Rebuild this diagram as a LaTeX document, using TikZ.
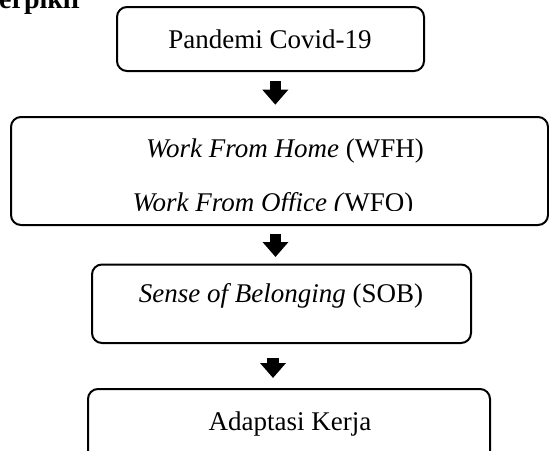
\documentclass[tikz,border=0pt]{standalone}
\usepackage{fontspec}
\setmainfont{Liberation Serif}
\usetikzlibrary{arrows.meta, positioning}

\tikzset{
  flowbox/.style={draw, line width=2pt, rounded corners=10pt, inner sep=0pt},
  blockarrow/.style={line width=11.5pt, -{Triangle[width=25pt, length=15pt]}},
  boxtext/.style={font=\fontsize{27}{32}\selectfont, anchor=base, inner sep=0pt},
}

\begin{document}
\begin{tikzpicture}[x=1pt, y=-1pt]
  \clip (0,0) rectangle (549,450);

  % Heading, cut off by the frame
  \node[anchor=base west, inner sep=0pt, font=\fontsize{28}{32}\selectfont\bfseries] (head) at (-1,8) {erpikir};

  % Boxes
  \node[flowbox, minimum width=307pt, minimum height=64pt]   (covid) at (270.5,39) {};
  \node[flowbox, minimum width=537pt, minimum height=108pt]  (work)  at (279.5,171) {};
  \node[flowbox, minimum width=379pt, minimum height=78.5pt] (sob)   at (281.5,303.75) {};
  \node[flowbox, minimum width=402pt, minimum height=81pt]   (kerja) at (289,429.5) {};

  % Texts
  \node[boxtext] (covidtxt) at (270,48)  {Pandemi Covid-19};
  \node[boxtext] (wfhtxt)   at (285,157) {\textit{Work From Home} (WFH)};
  \begin{scope}
    \clip (11,117) rectangle (548,210); % second line is cut in the source
    \node[boxtext] (wfotxt) at (273,211) {\textit{Work From Office (}WFO)};
  \end{scope}
  \node[boxtext] (sobtxt)   at (281,302) {\textit{Sense of Belonging} (SOB)};
  \node[boxtext] (kerjatxt) at (290,430) {Adaptasi Kerja};

  % Arrows
  \draw[blockarrow] ([shift={(4.8,9)}]covid.south) -- ([shift={(-4.2,-11.3)}]work.north);
  \draw[blockarrow] ([shift={(-4,8)}]work.south)    -- ([shift={(-6,-6.5)}]sob.north);
  \draw[blockarrow] ([shift={(-8.5,14)}]sob.south)  -- ([shift={(-16,-10)}]kerja.north);
\end{tikzpicture}
\end{document}
